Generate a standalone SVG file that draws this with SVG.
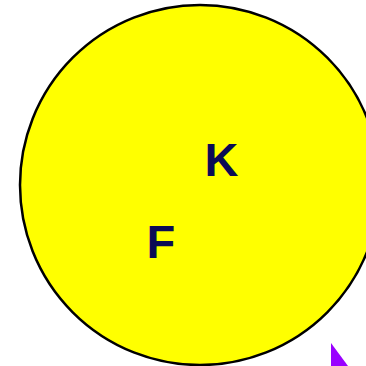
<svg xmlns="http://www.w3.org/2000/svg" width="366" height="366" viewBox="0 0 366 366">
<style>
.lbl{font-family:"Liberation Sans",Arial,sans-serif;font-weight:bold;font-size:47px;fill:#0b0b55}
</style>
<rect width="366" height="366" fill="#ffffff"/>
<g id="circle">
<circle cx="200" cy="185" r="180" fill="#ffff00" stroke="#000000" stroke-width="2.5"/>
</g>
<g id="K"><text class="lbl" x="204.5" y="176">K</text></g>
<g id="F"><text class="lbl" x="146.5" y="258">F</text></g>
<g id="connectors">
<polygon points="331,343 331,366 348,366" fill="#9900ff"/>
</g>
</svg>
